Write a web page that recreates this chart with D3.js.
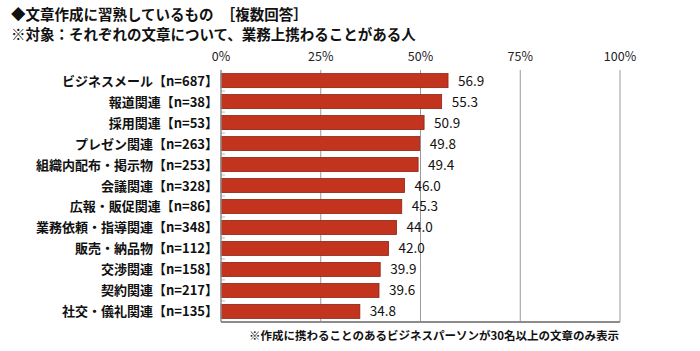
<!DOCTYPE html>
<html>
<head>
<meta charset="utf-8">
<script src="https://cdn.jsdelivr.net/npm/d3@7"></script>
<style>
  body { margin: 0; background: #fff; }
  svg { display: block; font-family: "Noto Sans CJK JP", "Noto Sans", sans-serif; }
</style>
</head>
<body>
<svg id="chart" width="700" height="351"></svg>
<script>
// カテゴリと値
const categorias = ["ビジネスメール", "報道関連", "採用関連", "プレゼン関連", "組織内配布・掲示物", "会議関連",
  "広報・販促関連", "業務依頼・指導関連", "販売・納品物", "交渉関連", "契約関連", "社交・儀礼関連"];
const muestras = [687, 38, 53, 263, 253, 328, 86, 348, 112, 158, 217, 135];
const valores = [56.9, 55.3, 50.9, 49.8, 49.4, 46.0, 45.3, 44.0, 42.0, 39.9, 39.6, 34.8];
const ticks = [0, 25, 50, 75, 100];

const datos = categorias.map((c, i) => ({ cat: c, n: muestras[i], v: valores[i] }));

const svg = d3.select("#chart");
const margin = { top: 70, right: 80, bottom: 29, left: 221 };
const width = 700, height = 351;

const x = d3.scaleLinear().domain([0, 100]).range([margin.left, width - margin.right]);
const y = d3.scaleBand().domain(categorias).range([margin.top, height - margin.bottom]).paddingInner(0.33).paddingOuter(0.17);

// Títulos
svg.append("text").attr("x", 11).attr("y", 20)
  .style("font-size", "14.5px").style("font-weight", "bold").attr("fill", "#111")
  .text("◆文章作成に習熟しているもの　［複数回答］");
svg.append("text").attr("x", 11).attr("y", 40)
  .style("font-size", "14.5px").style("font-weight", "bold").attr("fill", "#111")
  .text("※対象：それぞれの文章について、業務上携わることがある人");

// grid
svg.append("g")
  .selectAll("line").data(ticks.slice(1)).join("line")
  .attr("x1", d => x(d)).attr("x2", d => x(d))
  .attr("y1", margin.top).attr("y2", height - margin.bottom)
  .attr("stroke", "#9a9a9a").attr("stroke-width", 1);

// tick labels
svg.append("g")
  .selectAll("text").data(ticks).join("text")
  .attr("x", d => x(d)).attr("y", 61)
  .attr("text-anchor", "middle")
  .style("font-size", "12.5px").attr("fill", "#222")
  .text(d => d + "%");

// pequeñas marcas entre barras
svg.append("g")
  .selectAll("line").data(categorias.slice(0, -1)).join("line")
  .attr("x1", x(0)).attr("x2", x(0) + 4)
  .attr("y1", d => y(d) + y.bandwidth() + (y.step() - y.bandwidth()) / 2)
  .attr("y2", d => y(d) + y.bandwidth() + (y.step() - y.bandwidth()) / 2)
  .attr("stroke", "#bbb");

// barras
svg.append("g")
  .selectAll("rect").data(datos).join("rect")
  .attr("x", x(0))
  .attr("y", d => y(d.cat))
  .attr("width", d => x(d.v) - x(0))
  .attr("height", y.bandwidth())
  .attr("fill", "#c3341e")
  .attr("stroke", "#8e2414").attr("stroke-width", 0.8);

// frame izquierda / abajo
svg.append("line").attr("x1", x(0)).attr("x2", x(0))
  .attr("y1", margin.top).attr("y2", height - margin.bottom)
  .attr("stroke", "#8c8c8c").attr("stroke-width", 1.5);
svg.append("line").attr("x1", x(0)).attr("x2", x(100))
  .attr("y1", height - margin.bottom).attr("y2", height - margin.bottom)
  .attr("stroke", "#8c8c8c").attr("stroke-width", 2);

// etiquetas de valor
svg.append("g")
  .selectAll("text").data(datos).join("text")
  .attr("x", d => x(d.v) + 10)
  .attr("y", d => y(d.cat) + y.bandwidth() / 2 + 5)
  .style("font-size", "13.5px").attr("fill", "#111")
  .text(d => d.v.toFixed(1));

// etiquetas de categoría
svg.append("g")
  .selectAll("text").data(datos).join("text")
  .attr("x", 218)
  .attr("y", d => y(d.cat) + y.bandwidth() / 2 + 5)
  .attr("text-anchor", "end")
  .style("font-size", "13px").style("font-weight", "bold").attr("fill", "#111")
  .text(d => `${d.cat}【n=${d.n}】`);

// nota
svg.append("text").attr("x", 619).attr("y", 340)
  .attr("text-anchor", "end")
  .style("font-size", "11.5px").style("font-weight", "bold").attr("fill", "#111")
  .text("※作成に携わることのあるビジネスパーソンが30名以上の文章のみ表示");
</script>
</body>
</html>
